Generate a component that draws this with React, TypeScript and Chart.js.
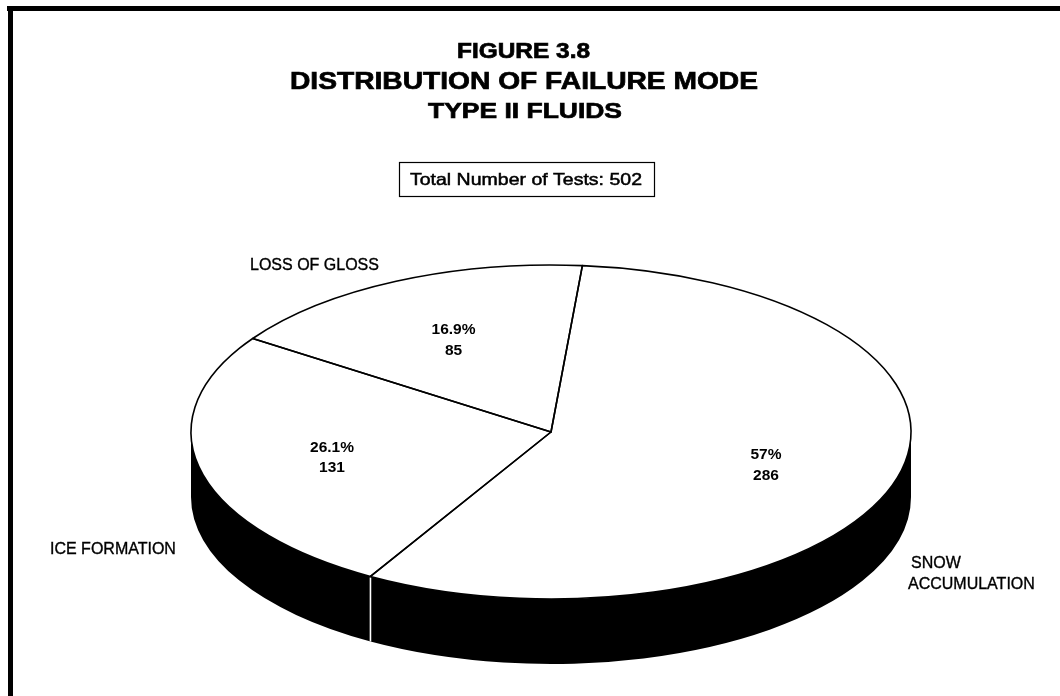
import React, { useEffect, useRef } from "react";
import { Chart, registerables } from "chart.js";

Chart.register(...registerables);

const categories = ["SNOW ACCUMULATION", "ICE FORMATION", "LOSS OF GLOSS"];
const counts = [286, 131, 85];
const percentLabels = ["57%", "26.1%", "16.9%"];
const titleLines = ["FIGURE 3.8", "DISTRIBUTION OF FAILURE MODE", "TYPE II FLUIDS"];
const totalLabel = "Total Number of Tests: 502";

const FONT = "'Liberation Sans', Arial, sans-serif";

// Placement of the tilted pie on the page
const PIE = { cx: 551, cy: 432, rx: 360, ry: 167, depth: 65, rotation: 5 };

const titleStyles = [
  { x: 523.5, y: 51.5, size: 22, width: 133 },
  { x: 524, y: 82, size: 24, width: 468 },
  { x: 525, y: 112, size: 22, width: 194 },
];
const valuePositions = [
  { x: 766, y: 455, gap: 21 },
  { x: 332, y: 448, gap: 20 },
  { x: 453.5, y: 330, gap: 21 },
];
const categoryPositions = [
  { lines: ["SNOW", "ACCUMULATION"], xs: [911, 908], y: 564, gap: 21 },
  { lines: ["ICE FORMATION"], xs: [50], y: 550, gap: 0 },
  { lines: ["LOSS OF GLOSS"], xs: [250], y: 266, gap: 0 },
];

function arcsOf(chart: any) {
  return chart.getDatasetMeta(0).data as any[];
}

// Centred text, stretched sideways to the reference's wide face
function wideText(
  ctx: CanvasRenderingContext2D,
  text: string,
  x: number,
  y: number,
  font: string,
  width: number,
  weight: number
) {
  ctx.save();
  ctx.font = font;
  ctx.textAlign = "center";
  ctx.textBaseline = "middle";
  const natural = ctx.measureText(text).width;
  ctx.translate(x, y);
  ctx.scale(width / natural, 1);
  ctx.fillText(text, 0, 0);
  ctx.lineWidth = weight;
  ctx.strokeStyle = "#000000";
  ctx.strokeText(text, 0, 0);
  ctx.restore();
}

const tiltedPie = {
  id: "tiltedPie",
  beforeDraw(chart: any) {
    const { ctx, width } = chart;
    ctx.save();
    ctx.fillStyle = "#ffffff";
    ctx.fillRect(0, 0, width, chart.height);
    ctx.fillStyle = "#000000";
    ctx.fillRect(7, 6, width - 7, 5);
    ctx.fillRect(8, 6, 5, chart.height - 6);
    ctx.restore();
  },
  beforeDatasetsDraw(chart: any) {
    const { ctx } = chart;
    const arcs = arcsOf(chart);
    // side wall, only where the rim faces the viewer
    ctx.save();
    arcs.forEach((arc) => {
      const a = Math.max(arc.startAngle, 0);
      const b = Math.min(arc.endAngle, Math.PI);
      if (b <= a) return;
      ctx.beginPath();
      ctx.ellipse(PIE.cx, PIE.cy, PIE.rx, PIE.ry, 0, a, b);
      ctx.ellipse(PIE.cx, PIE.cy + PIE.depth, PIE.rx, PIE.ry, 0, b, a, true);
      ctx.closePath();
      ctx.fillStyle = "#000000";
      ctx.fill();
    });
    arcs.forEach((arc) => {
      const a = arc.startAngle;
      if (a <= 0 || a >= Math.PI) return;
      const x = PIE.cx + PIE.rx * Math.cos(a);
      const y = PIE.cy + PIE.ry * Math.sin(a);
      ctx.beginPath();
      ctx.moveTo(x, y + 1);
      ctx.lineTo(x, y + PIE.depth);
      ctx.strokeStyle = "#ffffff";
      ctx.lineWidth = 1.6;
      ctx.stroke();
    });
    ctx.restore();

    // the library's own arcs are squashed into the ellipse
    const first = arcs[0];
    ctx.save();
    ctx.translate(PIE.cx, PIE.cy);
    ctx.scale(PIE.rx / first.outerRadius, PIE.ry / first.outerRadius);
    ctx.translate(-first.x, -first.y);
  },
  afterDatasetsDraw(chart: any) {
    const { ctx } = chart;
    ctx.restore();
    ctx.save();
    ctx.strokeStyle = "#000000";
    ctx.lineWidth = 1.6;
    ctx.lineJoin = "round";
    arcsOf(chart).forEach((arc) => {
      ctx.beginPath();
      ctx.moveTo(PIE.cx, PIE.cy);
      ctx.ellipse(PIE.cx, PIE.cy, PIE.rx, PIE.ry, 0, arc.startAngle, arc.endAngle);
      ctx.closePath();
      ctx.stroke();
    });
    ctx.restore();
  },
  afterDraw(chart: any) {
    const { ctx } = chart;
    ctx.save();
    ctx.fillStyle = "#000000";
    ctx.textBaseline = "middle";

    // title
    titleLines.forEach((line, i) => {
      const s = titleStyles[i];
      wideText(ctx, line, s.x, s.y, `bold ${s.size}px ${FONT}`, s.width, 0.7);
    });

    // total box
    ctx.strokeStyle = "#000000";
    ctx.lineWidth = 1.2;
    ctx.strokeRect(399.5, 162.5, 255, 34);
    wideText(ctx, totalLabel, 526, 180, `16.5px ${FONT}`, 232, 0.5);

    // values inside the slices
    ctx.font = `bold 15.5px ${FONT}`;
    ctx.textAlign = "center";
    counts.forEach((count, i) => {
      const p = valuePositions[i];
      ctx.fillText(percentLabels[i], p.x, p.y);
      ctx.fillText(String(count), p.x, p.y + p.gap);
    });

    // category labels
    ctx.font = `16px ${FONT}`;
    ctx.textAlign = "left";
    ctx.strokeStyle = "#000000";
    ctx.lineWidth = 0.35;
    categoryPositions.forEach((c) => {
      c.lines.forEach((line, j) => {
        ctx.fillText(line, c.xs[j], c.y + j * c.gap);
        ctx.strokeText(line, c.xs[j], c.y + j * c.gap);
      });
    });
    ctx.restore();
  },
};

export default function App() {
  const ref = useRef<HTMLCanvasElement | null>(null);

  useEffect(() => {
    if (!ref.current) return;
    const chart = new Chart(ref.current, {
      type: "pie",
      data: {
        labels: categories,
        datasets: [
          {
            data: counts,
            backgroundColor: "#ffffff",
            borderWidth: 0,
            clip: false,
          } as any,
        ],
      },
      options: {
        responsive: false,
        animation: false,
        rotation: PIE.rotation,
        layout: { padding: { top: 265, right: 300, left: 400, bottom: 95 } },
        plugins: {
          legend: { display: false },
          tooltip: { enabled: false },
        },
      },
      plugins: [tiltedPie],
    } as any);
    return () => chart.destroy();
  }, []);

  return (
    <div style={{ position: "absolute", left: 0, top: 0, width: 1060, height: 696, background: "#fff" }}>
      <canvas ref={ref} width={1060} height={696} style={{ display: "block", filter: "blur(0.3px)" }} />
    </div>
  );
}
